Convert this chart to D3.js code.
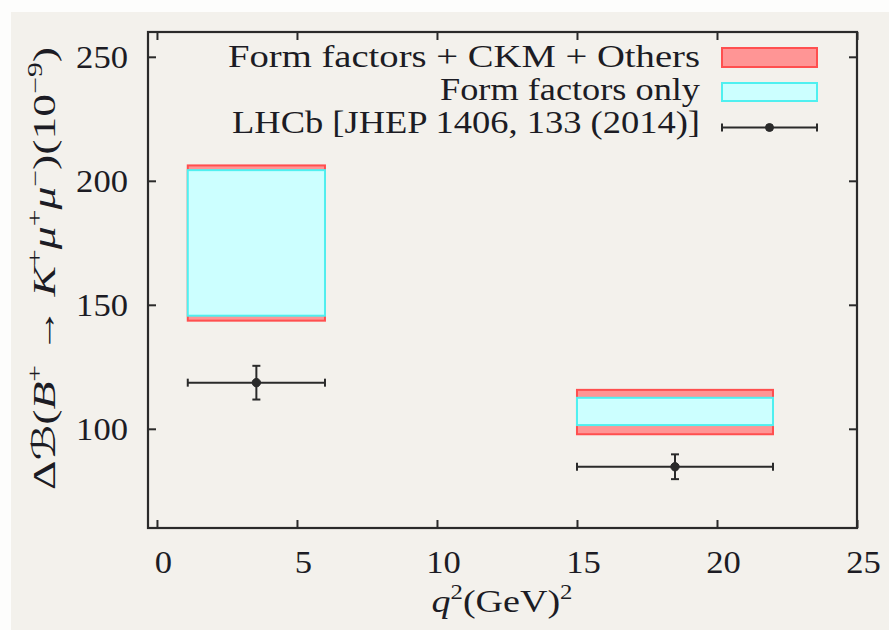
<!DOCTYPE html>
<html>
<head>
<meta charset="utf-8">
<script src="https://cdn.jsdelivr.net/npm/d3@7"></script>
<style>
  html, body { margin: 0; padding: 0; background: #fdfdfc; }
  svg { display: block; }
  text { font-family: "Liberation Serif", "DejaVu Serif", serif; fill: #1c1c24; }
</style>
</head>
<body>
<svg id="chart" width="889" height="630"></svg>
<script>
// q^2 bins (GeV^2)
const binLabels = ["[1.1, 6]", "[15, 22]"];
const binLow = [1.1, 15];
const binHigh = [6, 22];

// Prediction: form factors + CKM + others (10^-9)
const fullLow = [143.6, 97.8];
const fullHigh = [206.2, 115.7];

// Prediction: form factors only (10^-9)
const ffLow = [145.6, 101.5];
const ffHigh = [204.3, 112.5];

// LHCb measurement, integrated over each bin (10^-9)
const lhcbX = [3.55, 18.5];
const lhcbY = [118.6, 84.7];
const lhcbErr = [6.8, 5.0];

const xTicks = [0, 5, 10, 15, 20, 25];
const yTicks = [100, 150, 200, 250];

const legendLabels = [
  "Form factors + CKM + Others",
  "Form factors only",
  "LHCb [JHEP 1406, 133 (2014)]"
];

const svg = d3.select("#chart");
const W = 889, H = 630;
const margin = { left: 148, right: 32, top: 32, bottom: 102 };
const iw = W - margin.left - margin.right;
const ih = H - margin.top - margin.bottom;

// page background with a thin lighter strip along the top and left edges
svg.append("rect").attr("x", 11).attr("y", 12).attr("width", W - 11).attr("height", H - 12)
  .attr("fill", "#f3f1ec");

const x = d3.scaleLinear().domain([-0.32, 25]).range([0, iw]);
const y = d3.scaleLinear().domain([60, 260]).range([ih, 0]);

const g = svg.append("g").attr("transform", `translate(${margin.left},${margin.top})`);

const RED_FILL = "#ff9595", RED_LINE = "#ff4f4f";
const CYAN_FILL = "#ccffff", CYAN_LINE = "#4ff0f0";
const INK = "#2a2a2a";

// widen serif text slightly so it sets like Computer Modern
const stretch = (sel, len) => sel.attr("textLength", len).attr("lengthAdjust", "spacingAndGlyphs");

// full uncertainty bands
g.selectAll("rect.full").data(binLabels).join("rect")
  .attr("class", "full")
  .attr("x", (d, i) => x(binLow[i]))
  .attr("width", (d, i) => x(binHigh[i]) - x(binLow[i]))
  .attr("y", (d, i) => y(fullHigh[i]))
  .attr("height", (d, i) => y(fullLow[i]) - y(fullHigh[i]))
  .attr("fill", RED_FILL).attr("stroke", RED_LINE).attr("stroke-width", 2);

// form-factor-only bands
g.selectAll("rect.ff").data(binLabels).join("rect")
  .attr("class", "ff")
  .attr("x", (d, i) => x(binLow[i]))
  .attr("width", (d, i) => x(binHigh[i]) - x(binLow[i]))
  .attr("y", (d, i) => y(ffHigh[i]))
  .attr("height", (d, i) => y(ffLow[i]) - y(ffHigh[i]))
  .attr("fill", CYAN_FILL).attr("stroke", CYAN_LINE).attr("stroke-width", 2);

// LHCb points with x (bin width) and y error bars
const cap = 4;
const pts = g.selectAll("g.pt").data(binLabels).join("g").attr("class", "pt")
  .attr("stroke", INK).attr("stroke-width", 2).attr("fill", INK);
pts.append("line")
  .attr("x1", (d, i) => x(binLow[i])).attr("x2", (d, i) => x(binHigh[i]))
  .attr("y1", (d, i) => y(lhcbY[i])).attr("y2", (d, i) => y(lhcbY[i]));
pts.append("line")
  .attr("x1", (d, i) => x(binLow[i])).attr("x2", (d, i) => x(binLow[i]))
  .attr("y1", (d, i) => y(lhcbY[i]) - cap).attr("y2", (d, i) => y(lhcbY[i]) + cap);
pts.append("line")
  .attr("x1", (d, i) => x(binHigh[i])).attr("x2", (d, i) => x(binHigh[i]))
  .attr("y1", (d, i) => y(lhcbY[i]) - cap).attr("y2", (d, i) => y(lhcbY[i]) + cap);
pts.append("line")
  .attr("x1", (d, i) => x(lhcbX[i])).attr("x2", (d, i) => x(lhcbX[i]))
  .attr("y1", (d, i) => y(lhcbY[i] + lhcbErr[i])).attr("y2", (d, i) => y(lhcbY[i] - lhcbErr[i]));
pts.append("line")
  .attr("x1", (d, i) => x(lhcbX[i]) - cap).attr("x2", (d, i) => x(lhcbX[i]) + cap)
  .attr("y1", (d, i) => y(lhcbY[i] + lhcbErr[i])).attr("y2", (d, i) => y(lhcbY[i] + lhcbErr[i]));
pts.append("line")
  .attr("x1", (d, i) => x(lhcbX[i]) - cap).attr("x2", (d, i) => x(lhcbX[i]) + cap)
  .attr("y1", (d, i) => y(lhcbY[i] - lhcbErr[i])).attr("y2", (d, i) => y(lhcbY[i] - lhcbErr[i]));
pts.append("circle")
  .attr("cx", (d, i) => x(lhcbX[i])).attr("cy", (d, i) => y(lhcbY[i])).attr("r", 4.2)
  .attr("stroke-width", 1);

// axes: inward ticks, mirrored on top and right
const tick = 8;
const fs = 32;
const xAxis = g.append("g").attr("transform", `translate(0,${ih})`)
  .call(d3.axisBottom(x).tickValues(xTicks).tickSizeInner(-tick).tickSizeOuter(0).tickPadding(22));
const yAxis = g.append("g")
  .call(d3.axisLeft(y).tickValues(yTicks).tickSizeInner(-tick).tickSizeOuter(0).tickPadding(20));
g.append("g")
  .call(d3.axisTop(x).tickValues(xTicks).tickSizeInner(-tick).tickSizeOuter(0).tickFormat(""));
g.append("g").attr("transform", `translate(${iw},0)`)
  .call(d3.axisRight(y).tickValues(yTicks).tickSizeInner(-tick).tickSizeOuter(0).tickFormat(""));

g.selectAll(".domain").remove();
g.selectAll(".tick line").attr("stroke", INK).attr("stroke-width", 2);
g.selectAll(".tick text").attr("font-family", "Liberation Serif").attr("font-size", fs)
  .attr("fill", "#1c1c24")
  .each(function () {
    const t = d3.select(this);
    if (t.text()) stretch(t, t.text().length * 17.3);
  });
xAxis.selectAll(".tick text").attr("dx", 6);

// frame
g.append("rect").attr("width", iw).attr("height", ih)
  .attr("fill", "none").attr("stroke", INK).attr("stroke-width", 2.2);

// x-axis title
const xt = svg.append("text").attr("x", 502).attr("y", 612).attr("text-anchor", "middle")
  .attr("font-size", fs);
xt.append("tspan").attr("font-style", "italic").text("q");
xt.append("tspan").attr("font-size", fs * 0.65).attr("dy", -13).text("2");
xt.append("tspan").attr("dy", 13).text("(GeV)");
xt.append("tspan").attr("font-size", fs * 0.65).attr("dy", -13).text("2");
stretch(xt, 141);

// y-axis title
const yt = svg.append("text").attr("transform", "translate(55,268.5) rotate(-90)")
  .attr("text-anchor", "middle").attr("font-size", fs);
const sup = (t) => yt.append("tspan").attr("font-size", fs * 0.65).attr("dy", -13).text(t);
yt.append("tspan").text("Δ");
yt.append("tspan").attr("font-family", "DejaVu Sans").attr("font-style", "italic").text("ℬ");
yt.append("tspan").text("(");
yt.append("tspan").attr("font-style", "italic").text("B");
sup("+");
yt.append("tspan").attr("dy", 13).text(" → ");
yt.append("tspan").attr("font-style", "italic").text("K");
sup("+");
yt.append("tspan").attr("dy", 13).attr("font-style", "italic").text("μ");
sup("+");
yt.append("tspan").attr("dy", 13).attr("font-style", "italic").text("μ");
sup("−");
yt.append("tspan").attr("dy", 13).text(")(10");
sup("−9");
yt.append("tspan").attr("dy", 13).text(")");
stretch(yt, 443);

// legend
const legTextX = 700, legKeyX = 722, legKeyW = 95;
const rowY = [66.7, 100, 133];
const legWidths = [472, 260, 468];
legendLabels.forEach((t, i) => {
  const lt = svg.append("text").attr("x", legTextX).attr("y", rowY[i]).attr("text-anchor", "end")
    .attr("font-size", fs).text(t);
  stretch(lt, legWidths[i]);
});
svg.append("rect").attr("x", legKeyX).attr("y", 48).attr("width", legKeyW).attr("height", 19)
  .attr("fill", RED_FILL).attr("stroke", RED_LINE).attr("stroke-width", 2);
svg.append("rect").attr("x", legKeyX).attr("y", 83).attr("width", legKeyW).attr("height", 18)
  .attr("fill", CYAN_FILL).attr("stroke", CYAN_LINE).attr("stroke-width", 2);
const lk = svg.append("g").attr("stroke", INK).attr("stroke-width", 2).attr("fill", INK);
lk.append("line").attr("x1", legKeyX).attr("x2", legKeyX + legKeyW).attr("y1", 127.5).attr("y2", 127.5);
lk.append("line").attr("x1", legKeyX).attr("x2", legKeyX).attr("y1", 123.5).attr("y2", 131.5);
lk.append("line").attr("x1", legKeyX + legKeyW).attr("x2", legKeyX + legKeyW).attr("y1", 123.5).attr("y2", 131.5);
lk.append("circle").attr("cx", legKeyX + legKeyW / 2).attr("cy", 127.5).attr("r", 4).attr("stroke-width", 1);
</script>
</body>
</html>
